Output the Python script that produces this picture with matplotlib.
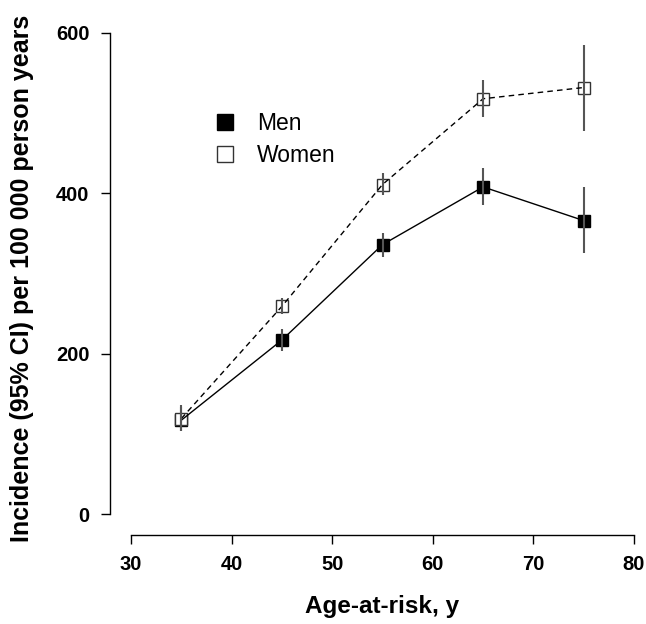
import numpy as np
import matplotlib.pyplot as plt
from matplotlib.lines import Line2D

plt.rcParams['font.family'] = ['Liberation Sans', 'DejaVu Sans']

# Inzidenz je Altersgruppe (Mittelpunkt der Altersklasse)
age = [35, 45, 55, 65, 75]

men = [117, 217, 336, 408, 366]
men_lo = [103, 203, 321, 385, 325]
men_hi = [133, 231, 351, 431, 408]

women = [119, 259, 411, 518, 532]
women_lo = [103, 249, 398, 495, 478]
women_hi = [136, 269, 425, 541, 585]

fig = plt.figure(figsize=(6.46, 6.24), dpi=100)
ax = fig.add_axes([131 / 646, 1 - 514 / 624, 503 / 646, 481 / 624])

err_col = '#555555'

# erst die Punkte, dann Linien und Konfidenzintervalle darüber
ax.plot(age, men, ls='none', marker='s', ms=8.5, mfc='black', mec='black', zorder=2)
ax.plot(age, women, ls='none', marker='s', ms=8.5, mfc='white', mec='#333333',
        mew=1.0, zorder=3)
ax.plot(age, men, ls='-', color='black', lw=1.0, zorder=4)
ax.plot(age, women, ls=(0, (4, 3)), color='black', lw=1.0, zorder=4)
ax.vlines(age, men_lo, men_hi, color=err_col, lw=1.5, zorder=5)
ax.vlines(age, women_lo, women_hi, color=err_col, lw=1.5, zorder=5)

ax.set_xlim(30, 80)
ax.set_ylim(0, 600)
ax.set_xticks([30, 40, 50, 60, 70, 80])
ax.set_yticks([0, 200, 400, 600])

# Achsen im R-Stil: abgesetzt und nur über den Tickbereich
for s in ['top', 'right']:
    ax.spines[s].set_visible(False)
ax.spines['left'].set_position(('outward', 15))
ax.spines['bottom'].set_position(('outward', 15))
ax.spines['left'].set_bounds(0, 600)
ax.spines['bottom'].set_bounds(30, 80)
for s in ['left', 'bottom']:
    ax.spines[s].set_linewidth(1.0)

ax.tick_params(axis='both', direction='out', length=6.5, width=1.0,
               labelsize=14.5)
ax.tick_params(axis='y', pad=8.5)
ax.tick_params(axis='x', pad=8)
for lab in ax.get_xticklabels() + ax.get_yticklabels():
    lab.set_fontweight('bold')

ax.set_xlabel('Age-at-risk, y', fontsize=17.5, fontweight='bold', va='center')
ax.xaxis.set_label_coords(0.5, (514 - 607) / 481)
ax.set_ylabel('Incidence (95% CI) per 100 000 person years', fontsize=18,
              fontweight='bold', va='center')
ax.yaxis.set_label_coords((22 - 131) / 503, (514 - 278) / 481)

handles = [
    Line2D([], [], ls='none', marker='s', ms=11, mfc='black', mec='black'),
    Line2D([], [], ls='none', marker='s', ms=11, mfc='white', mec='#333333', mew=1.0),
]
fig.legend(handles, ['Men', 'Women'], loc='upper left',
           bbox_to_anchor=(213.5 / 646, 1 - 112 / 624), frameon=False,
           fontsize=16.5, handlelength=1.0, handletextpad=0.9,
           borderpad=0, borderaxespad=0, labelspacing=0.4)

fig.savefig('out.png', dpi=100)
